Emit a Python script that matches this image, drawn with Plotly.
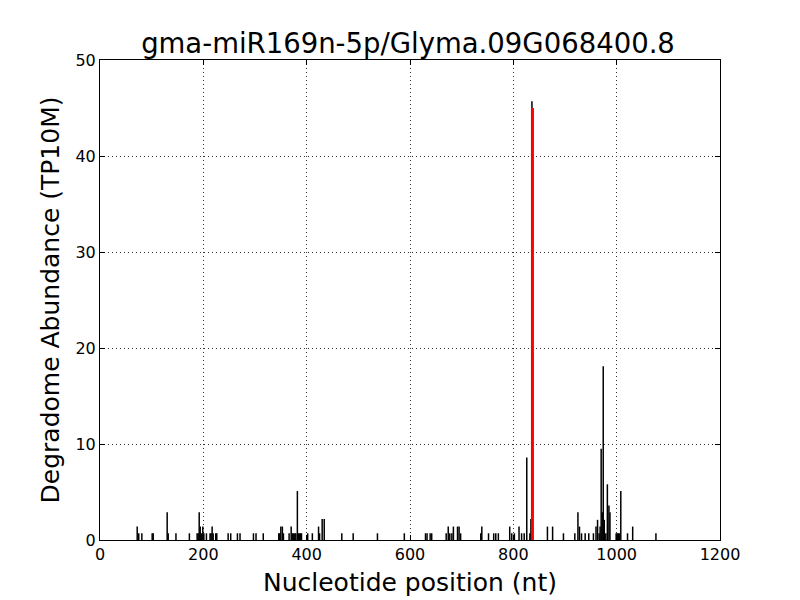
import plotly.graph_objects as go

title_text = "gma-miR169n-5p/Glyma.09G068400.8"
x_label = "Nucleotide position (nt)"
y_label = "Degradome Abundance (TP10M)"

positions = [72, 75, 81, 101, 103, 130, 132, 147, 173, 188, 190, 192, 194, 197, 199, 201,
             206, 213, 215, 217, 219, 224, 226, 248, 253, 266, 271, 297, 302, 316, 346, 348,
             350, 353, 355, 366, 370, 372, 374, 377, 379, 382, 384, 386, 388, 390, 402, 411,
             423, 425, 430, 434, 468, 490, 537, 589, 630, 633, 639, 642, 670, 674, 677, 681,
             684, 692, 695, 698, 737, 739, 752, 762, 766, 771, 793, 797, 802, 811, 816, 821,
             826, 832, 834, 836, 866, 876, 897, 919, 925, 928, 932, 939, 946, 955, 960, 963,
             966, 968, 970, 972, 974, 976, 979, 982, 985, 987, 999, 1001, 1003, 1005, 1008,
             1021, 1031, 1076]
abundance = [1.4, 0.7, 0.7, 0.7, 0.7, 2.9, 0.7, 0.7, 0.7, 0.7, 0.7, 2.9, 1.4, 0.7, 1.4, 0.7,
             0.7, 0.7, 0.7, 1.4, 0.7, 0.7, 0.7, 0.7, 0.7, 0.7, 0.7, 0.7, 0.7, 0.7, 0.7, 0.7,
             1.4, 1.4, 0.7, 0.7, 1.4, 0.7, 0.7, 0.7, 0.7, 5.1, 0.7, 0.7, 0.7, 0.7, 0.7, 0.7,
             1.4, 0.7, 2.2, 2.2, 0.7, 0.7, 0.7, 0.7, 0.7, 0.7, 0.7, 0.7, 0.7, 1.4, 0.7, 0.7,
             1.4, 1.4, 1.4, 0.7, 0.7, 1.4, 0.7, 0.7, 0.7, 0.7, 1.4, 0.7, 0.7, 1.4, 0.7, 0.7,
             8.6, 0.7, 2.2, 45.7, 1.4, 1.4, 0.7, 0.7, 2.9, 1.4, 0.7, 0.7, 0.7, 0.7, 1.4, 2.1,
             0.7, 1.4, 9.5, 2.9, 18.1, 2.1, 0.7, 5.8, 3.6, 2.9, 0.7, 0.7, 0.7, 0.7, 5.1,
             0.7, 1.4, 0.7]

target_position = [837]
target_abundance = [45.0]

x_ticks = [0, 200, 400, 600, 800, 1000, 1200]
y_ticks = [0, 10, 20, 30, 40, 50]


def vlines(xs, ys):
    lx, ly = [], []
    for x, y in zip(xs, ys):
        lx += [x, x, None]
        ly += [0, y, None]
    return lx, ly


bx, by = vlines(positions, abundance)
rx, ry = vlines(target_position, target_abundance)

fig = go.Figure()
fig.add_trace(go.Scatter(x=bx, y=by, mode="lines", line=dict(color="black", width=1.5),
                         hoverinfo="skip", showlegend=False))
fig.add_trace(go.Scatter(x=rx, y=ry, mode="lines", line=dict(color="red", width=3),
                         hoverinfo="skip", showlegend=False))

font_family = "DejaVu Sans"
axis_common = dict(
    showline=True, linecolor="black", linewidth=1, mirror="allticks",
    ticks="inside", ticklen=5, tickcolor="black",
    showgrid=True, gridcolor="#333333", griddash="1px,3px", gridwidth=1,
    zeroline=False, tickfont=dict(family=font_family, size=16, color="black"),
)

fig.update_layout(
    width=800, height=600,
    margin=dict(l=92, r=88, t=52, b=68),
    paper_bgcolor="white", plot_bgcolor="white",
    title=dict(text=title_text, x=0.5, xanchor="center", y=0.9417, yanchor="middle",
               font=dict(family=font_family, size=27.5, color="black")),
    xaxis=dict(range=[0, 1200], tickvals=x_ticks, ticktext=[str(t) for t in x_ticks],
               title=dict(text=x_label, font=dict(family=font_family, size=25, color="black"),
                          standoff=10),
               **axis_common),
    yaxis=dict(range=[0, 50], tickvals=y_ticks, ticktext=[str(t) for t in y_ticks],
               title=dict(text=y_label, font=dict(family=font_family, size=25, color="black"),
                          standoff=8),
               **axis_common),
)

fig.write_html("out.html")
